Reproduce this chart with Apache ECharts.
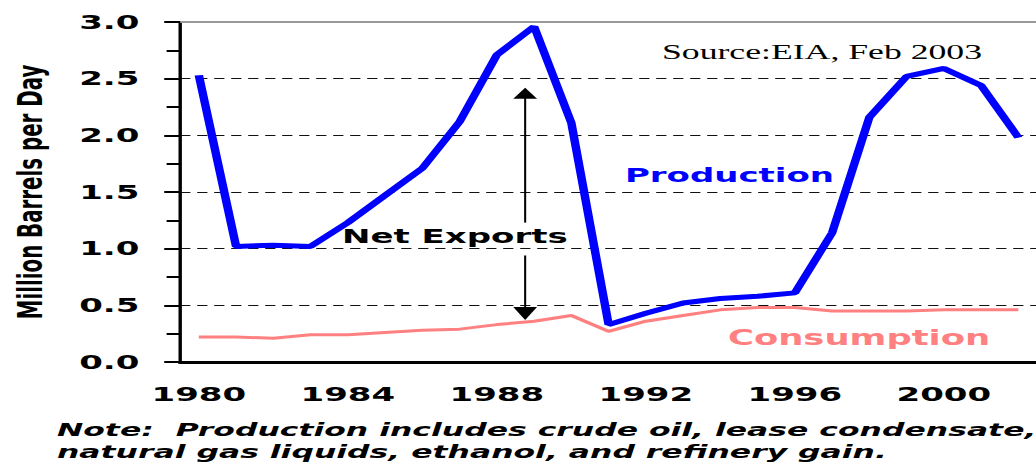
<!DOCTYPE html>
<html>
<head>
<meta charset="utf-8">
<script src="https://cdn.jsdelivr.net/npm/echarts@6/dist/echarts.min.js"></script>
<style>
    html, body {
        margin: 0;
        padding: 0;
        background: #fff;
        overflow: hidden;
    }
    /* the original picture is stretched sideways, so draw it narrow and stretch it */
    #main {
        width: 610px;
        height: 474px;
        transform: scaleX(1.7);
        transform-origin: 0 0;
    }
</style>
</head>
<body>
<div id="main"></div>
<script>
    var years = ['1980', '1981', '1982', '1983', '1984', '1985', '1986', '1987', '1988', '1989', '1990', '1991',
                 '1992', '1993', '1994', '1995', '1996', '1997', '1998', '1999', '2000', '2001', '2002'];
    var production = [2.53, 1.02, 1.03, 1.02, 1.23, 1.47, 1.71, 2.12, 2.71, 2.96, 2.11, 0.33,
                      0.43, 0.52, 0.56, 0.58, 0.61, 1.14, 2.16, 2.52, 2.59, 2.44, 1.98];
    var consumption = [0.22, 0.22, 0.21, 0.24, 0.24, 0.26, 0.28, 0.29, 0.33, 0.36, 0.41, 0.27,
                       0.36, 0.41, 0.46, 0.48, 0.48, 0.45, 0.45, 0.45, 0.46, 0.46, 0.46];
    var yMin = 0, yMax = 3, yStep = 0.5;

    // "Net Exports" arrow: between 1988 and 1989, from consumption up to production level
    var arrowIndex = 8, arrowFrac = 0.76;
    var arrowTop = 2.42, arrowBottom = 0.37, gapTop = 1.23, gapBottom = 0.94;

    var sans = '"DejaVu Sans", sans-serif';
    var myChart = echarts.init(document.getElementById('main'), null, {renderer: 'svg'});

    var option = {
        animation: false,
        grid: {left: 102, top: 22, width: 512, height: 340},
        xAxis: [{
            type: 'category',
            data: years,
            boundaryGap: true,
            axisLine: {lineStyle: {color: '#000', width: 3}},
            axisTick: {interval: 0, length: 6, lineStyle: {color: '#000', width: 1.2}},
            axisLabel: {
                interval: 3, margin: 22, color: '#000',
                fontFamily: sans, fontWeight: 'bold', fontSize: 20
            },
            splitLine: {show: false}
        }, {
            // grey frame line on top
            type: 'category',
            data: years,
            position: 'top',
            axisLine: {lineStyle: {color: '#999', width: 2}},
            axisTick: {show: false},
            axisLabel: {show: false}
        }],
        yAxis: {
            type: 'value',
            min: yMin,
            max: yMax,
            interval: yStep,
            name: 'Million Barrels per Day',
            nameLocation: 'middle',
            nameGap: 78,
            nameTextStyle: {color: '#000', fontFamily: sans, fontWeight: 'bold', fontSize: 19.8},
            axisLine: {show: true, lineStyle: {color: '#000', width: 2}},
            axisTick: {show: true, length: 9.4, lineStyle: {color: '#000', width: 2}},
            minorTick: {show: true, splitNumber: 2, length: 8, lineStyle: {color: '#000', width: 2}},
            axisLabel: {
                margin: 24, color: '#000', fontFamily: sans, fontWeight: 'bold', fontSize: 20,
                formatter: function (v) { return v.toFixed(1); }
            },
            splitLine: {lineStyle: {color: '#111', type: [6, 4], width: 1}}
        },
        series: [{
            name: 'Production',
            type: 'line',
            data: production,
            symbol: 'none',
            lineStyle: {color: '#0000ff', width: 5},
            z: 3
        }, {
            name: 'Consumption',
            type: 'line',
            data: consumption,
            symbol: 'none',
            lineStyle: {color: '#ff8080', width: 3},
            z: 2
        }]
    };
    myChart.setOption(option);

    // annotations
    var p0 = myChart.convertToPixel({gridIndex: 0}, [arrowIndex, 0]);
    var p1 = myChart.convertToPixel({gridIndex: 0}, [arrowIndex + 1, 0]);
    var ax = p0[0] + (p1[0] - p0[0]) * arrowFrac;
    function yOf(v) { return myChart.convertToPixel({gridIndex: 0}, [0, v])[1]; }
    var tTop = yOf(arrowTop), tBot = yOf(arrowBottom);

    function label(text, x, y, color, font, lineHeight) {
        return {
            type: 'text', x: x, y: y, z: 100,
            style: {text: text, fill: color, font: font, verticalAlign: 'middle', lineHeight: lineHeight}
        };
    }
    var boldFont = 'bold 20px ' + sans;
    var arrowStyle = {stroke: '#000', lineWidth: 1.2};
    var note = 'Note:  Production includes crude oil, lease condensate,\n' +
               'natural gas liquids, ethanol, and refinery gain.';

    myChart.setOption({
        graphic: [
            label('Source:EIA, Feb 2003', 389.4, 52, '#000', '21px "Liberation Serif", serif'),
            label('Production', 367.6, 175, '#0000ff', boldFont),
            label('Consumption', 428.2, 338, '#ff8080', 'bold 20.8px ' + sans),
            label('Net Exports', 201.2, 236, '#000', boldFont),
            label(note, 33.5, 441, '#000', 'italic bold 18.5px ' + sans, 22),
            {type: 'line', z: 100, shape: {x1: ax, y1: tTop + 10, x2: ax, y2: yOf(gapTop)}, style: arrowStyle},
            {type: 'line', z: 100, shape: {x1: ax, y1: yOf(gapBottom), x2: ax, y2: tBot - 12}, style: arrowStyle},
            {type: 'polygon', z: 100, shape: {points: [[ax, tTop], [ax - 7, tTop + 11], [ax + 7, tTop + 11]]}, style: {fill: '#000'}},
            {type: 'polygon', z: 100, shape: {points: [[ax, tBot], [ax - 7, tBot - 13], [ax + 7, tBot - 13]]}, style: {fill: '#000'}}
        ]
    });
</script>
</body>
</html>
